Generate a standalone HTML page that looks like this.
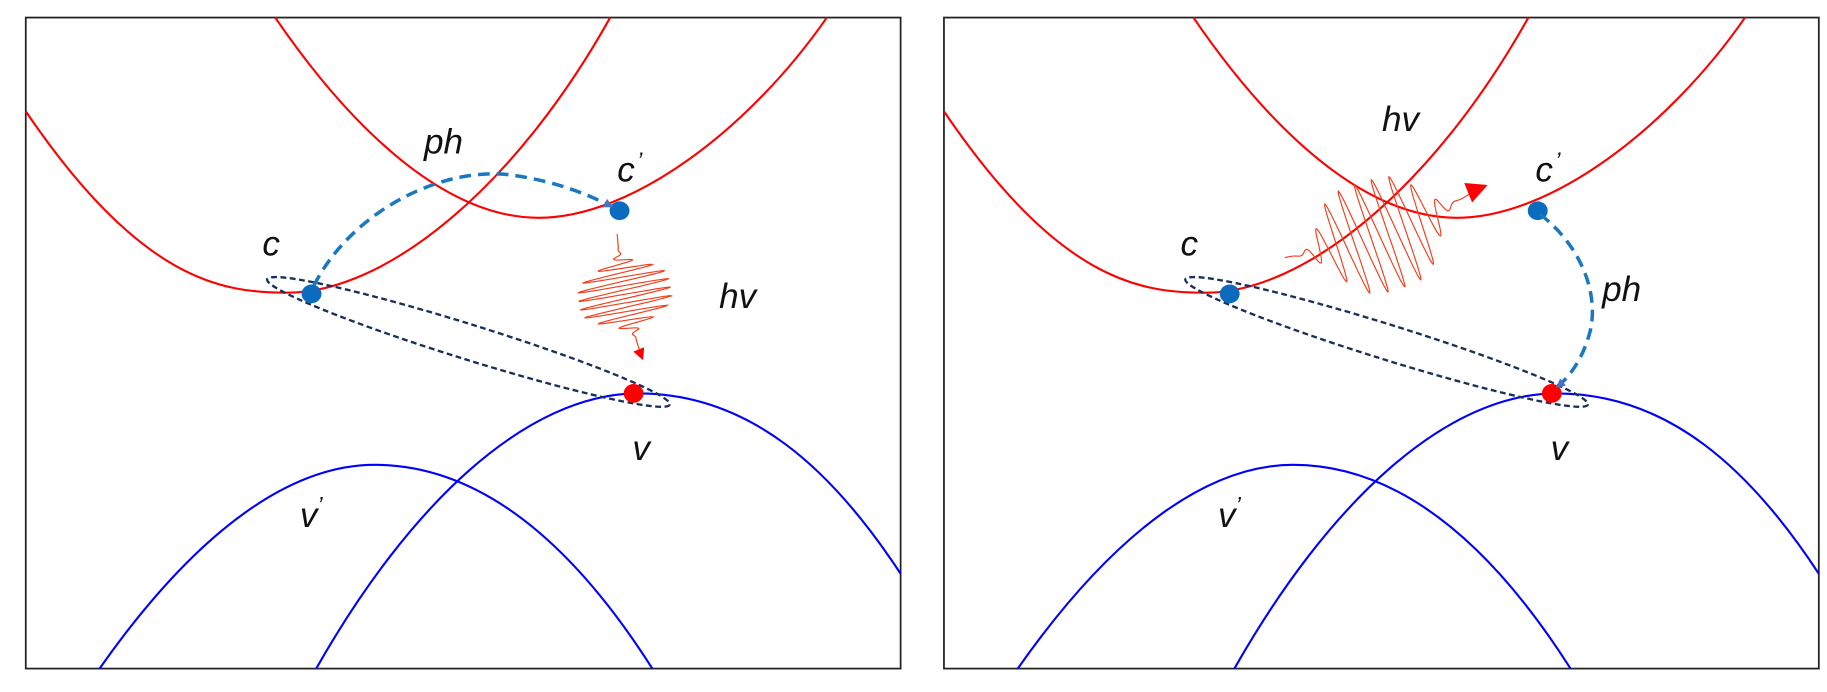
<!DOCTYPE html>
<html><head><meta charset="utf-8"><style>
html,body{margin:0;padding:0;background:#fff;width:1827px;height:692px;overflow:hidden}
svg{display:block}
text{font-family:"Liberation Sans",sans-serif;font-style:italic;font-size:30px;fill:#111}
</style></head><body>
<svg width="1827" height="692" viewBox="0 0 1560 591" preserveAspectRatio="none" xmlns="http://www.w3.org/2000/svg">
<defs>
<marker id="ab" markerWidth="8" markerHeight="8" refX="6" refY="4" orient="auto" markerUnits="userSpaceOnUse"><path d="M0,0 L8,4 L0,8 z" fill="#4a72c0"/></marker>
<marker id="ar" markerWidth="10" markerHeight="10" refX="7" refY="5" orient="auto" markerUnits="userSpaceOnUse"><path d="M0,0 L10,5 L0,10 z" fill="#f00"/></marker>
<marker id="ar2" markerWidth="18" markerHeight="18" refX="12" refY="9" orient="auto" markerUnits="userSpaceOnUse"><path d="M0,0 L18,9 L0,18 z" fill="#f00"/></marker>
<g id="panel">
<rect x="22" y="15" width="747" height="556" fill="#fff" stroke="#222" stroke-width="1.5"/>
<path d="M22,95 C120,240 190,250 245,250 C330,250 440,160 521,15" fill="none" stroke="#f00" stroke-width="1.8"/>
<path d="M235,15 C300,110 380,186 460,186 C540,186 640,110 706,15" fill="none" stroke="#f00" stroke-width="1.8"/>
<path d="M270,571 C350,430 450,336 545,336 C640,336 710,400 769,490" fill="none" stroke="#00f" stroke-width="1.8"/>
<path d="M85,571 C170,450 250,397 320,397 C400,397 480,450 557,571" fill="none" stroke="#00f" stroke-width="1.8"/>
<ellipse cx="400" cy="292" rx="180" ry="15" transform="rotate(17.3 400 292)" fill="none" stroke="#1a2f5a" stroke-width="2" stroke-dasharray="5,3"/>
<ellipse cx="266" cy="251" rx="8.5" ry="8" fill="#0b6bbf"/>
<ellipse cx="529" cy="180" rx="8.5" ry="8" fill="#0b6bbf"/>
<ellipse cx="541" cy="336" rx="8.5" ry="8" fill="#f00"/>
<text x="224" y="218">c</text>
<text x="527" y="155">c</text><text x="544" y="144" style="font-size:20px">’</text>
<text x="540" y="393">v</text>
<text x="256" y="450">v</text><text x="271" y="438" style="font-size:20px">’</text>
</g>
</defs>
<use href="#panel"/>
<use href="#panel" transform="translate(784,0)"/>
<path d="M268,244 C300,180 380,140 440,150 C480,156 505,168 522,176" fill="none" stroke="#1a78c2" stroke-width="3" stroke-dasharray="10,6" marker-end="url(#ab)"/>
<text x="362" y="131">ph</text>
<text x="614" y="263">hv</text>
<path id="p1" fill="none" stroke="#f04020" stroke-width="1" marker-end="url(#ar)"/>
<path d="M1315,183 C1350,210 1365,250 1358,282 C1352,306 1340,322 1330,330" fill="none" stroke="#1a78c2" stroke-width="3" stroke-dasharray="10,6" marker-end="url(#ab)"/>
<text x="1368" y="257">ph</text>
<text x="1180" y="112">hv</text>
<path id="p2" fill="none" stroke="#f04020" stroke-width="1" marker-end="url(#ar2)"/>
</svg>
<script>
function gen(sx,sy,ex,ey,cx,cy,ox,oy,A,k,sig,bend){
  var dx=ex-sx,dy=ey-sy,L=Math.hypot(dx,dy),ux=dx/L,uy=dy/L;
  var s0=(cx-sx)*ux+(cy-sy)*uy, d="";
  for(var s=0;s<=L;s+=0.5){
    var e=Math.exp(-Math.pow((s-s0)/sig,4));
    var a=A*e*Math.sin(k*(s-s0));
    var b=bend*Math.sin(Math.PI*s/L);
    var x=sx+ux*s+ox*a-uy*b, y=sy+uy*s+oy*a+ux*b;
    d+=(s==0?"M":"L")+x.toFixed(1)+","+y.toFixed(1);
  }
  return d;
}
document.getElementById("p1").setAttribute("d",gen(527,200,548,305,540,250,0.98,-0.2,40,0.85,26,4));
var n=Math.hypot(0.4,1);
document.getElementById("p2").setAttribute("d",gen(1097,220,1265,160,1175,193,0.4/n,1/n,48,0.42,50,10));
</script>
</body></html>
